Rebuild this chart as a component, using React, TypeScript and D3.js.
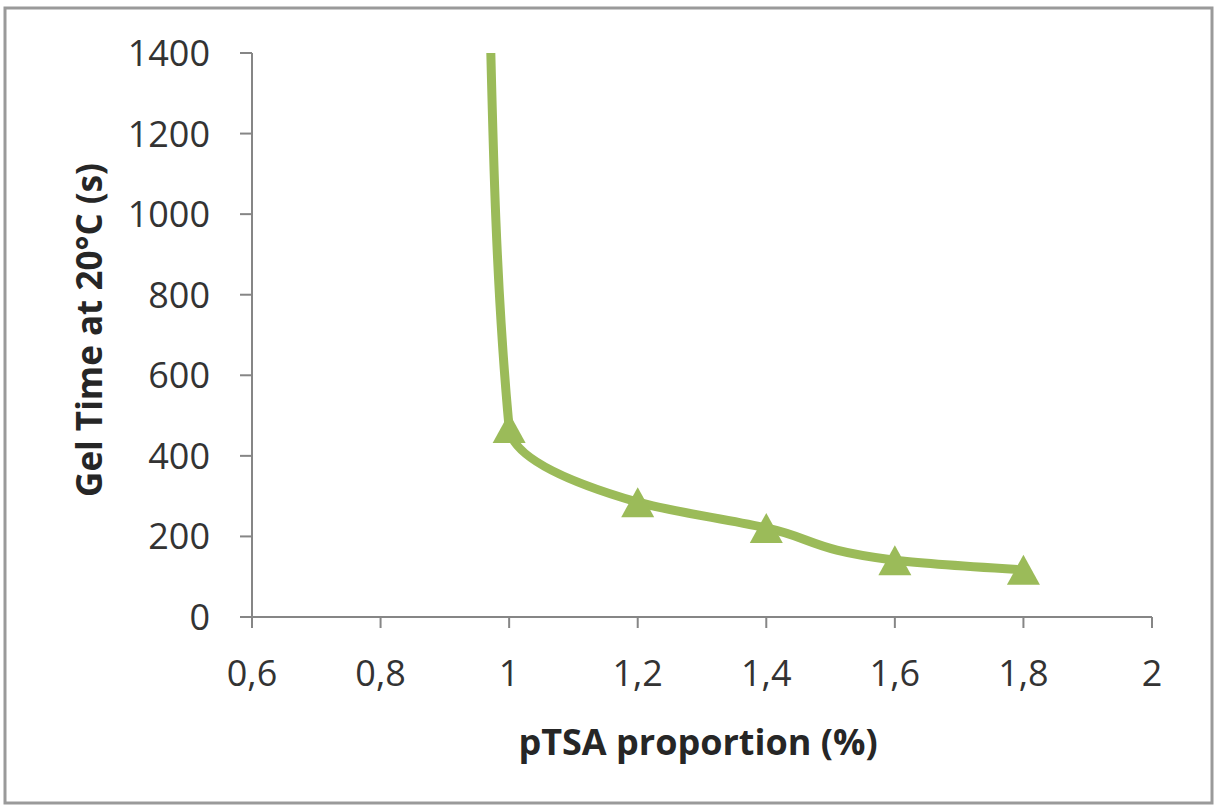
import React from "react";
import * as d3 from "d3";

const xValues = [0.97, 1.0, 1.2, 1.4, 1.6, 1.8];
const yValues = [1500, 469, 285, 221, 141, 117];
const xTicks = [0.6, 0.8, 1.0, 1.2, 1.4, 1.6, 1.8, 2.0];
const yTicks = [0, 200, 400, 600, 800, 1000, 1200, 1400];
const xTitle = "pTSA proportion (%)";
const yTitle = "Gel Time at 20°C (s)";

const W = 1215;
const H = 812;
const plot = { left: 252, right: 1152, top: 53, bottom: 617 };
const green = "#9BBB59";
const axisColor = "#868686";
const textColor = "#333333";
const font = "'Open Sans', 'Liberation Sans', sans-serif";
const MW = 33;
const MH = 30;

export default function App() {
  const x = d3.scaleLinear().domain([0.6, 2]).range([plot.left, plot.right]);
  const y = d3.scaleLinear().domain([0, 1400]).range([plot.bottom, plot.top]);
  const pts: [number, number][] = xValues.map((v, i) => [v, yValues[i]]);
  const line = d3
    .line<[number, number]>()
    .x((d) => x(d[0]))
    .y((d) => y(d[1]))
    .curve(d3.curveMonotoneY);
  const tri = `M0,${-MH / 2}L${MW / 2},${MH / 2}L${-MW / 2},${MH / 2}Z`;
  const fmt = (v: number) => String(+v.toFixed(1)).replace(".", ",");

  return (
    <svg
      width={W}
      height={H}
      style={{ position: "absolute", left: 0, top: 0, background: "#fff" }}
    >
      <defs>
        <clipPath id="plotClip">
          <rect
            x={plot.left}
            y={plot.top}
            width={plot.right - plot.left}
            height={plot.bottom - plot.top}
          />
        </clipPath>
      </defs>
      <rect x={0} y={0} width={W} height={H} fill="#fff" />
      <rect
        x={5}
        y={8}
        width={1207}
        height={795}
        fill="none"
        stroke="#9a9a9a"
        strokeWidth={3}
      />
      {/* y axis */}
      <line
        x1={plot.left}
        x2={plot.left}
        y1={plot.top}
        y2={plot.bottom + 11}
        stroke={axisColor}
        strokeWidth={2}
      />
      {yTicks.map((t) => (
        <g key={"y" + t}>
          <line
            x1={plot.left - 12}
            x2={plot.left}
            y1={y(t)}
            y2={y(t)}
            stroke={axisColor}
            strokeWidth={2}
          />
          <text
            x={210}
            y={y(t) + 13}
            textAnchor="end"
            fontFamily={font}
            fontSize={36}
            fill={textColor}
          >
            {t}
          </text>
        </g>
      ))}
      {/* x axis */}
      <line
        x1={plot.left - 12}
        x2={plot.right}
        y1={plot.bottom}
        y2={plot.bottom}
        stroke={axisColor}
        strokeWidth={2}
      />
      {xTicks.map((t) => (
        <g key={"x" + t}>
          <line
            x1={x(t)}
            x2={x(t)}
            y1={plot.bottom}
            y2={plot.bottom + 11}
            stroke={axisColor}
            strokeWidth={2}
          />
          <text
            x={x(t)}
            y={686}
            textAnchor="middle"
            fontFamily={font}
            fontSize={36}
            fill={textColor}
          >
            {fmt(t)}
          </text>
        </g>
      ))}
      {/* series */}
      <g clipPath="url(#plotClip)">
        <path
          d={line(pts) || ""}
          fill="none"
          stroke={green}
          strokeWidth={9}
          strokeLinejoin="round"
        />
        {pts.map((p, i) => (
          <path
            key={"m" + i}
            d={tri}
            transform={`translate(${x(p[0])},${y(p[1])})`}
            fill={green}
          />
        ))}
      </g>
      {/* titles */}
      <text
        x={698}
        y={755}
        textAnchor="middle"
        fontFamily={font}
        fontWeight="bold"
        fontSize={36}
        fill="#262626"
      >
        {xTitle}
      </text>
      <text
        transform={`translate(102,330) rotate(-90)`}
        textAnchor="middle"
        fontFamily={font}
        fontWeight="bold"
        fontSize={35}
        fill="#262626"
      >
        {yTitle}
      </text>
    </svg>
  );
}
